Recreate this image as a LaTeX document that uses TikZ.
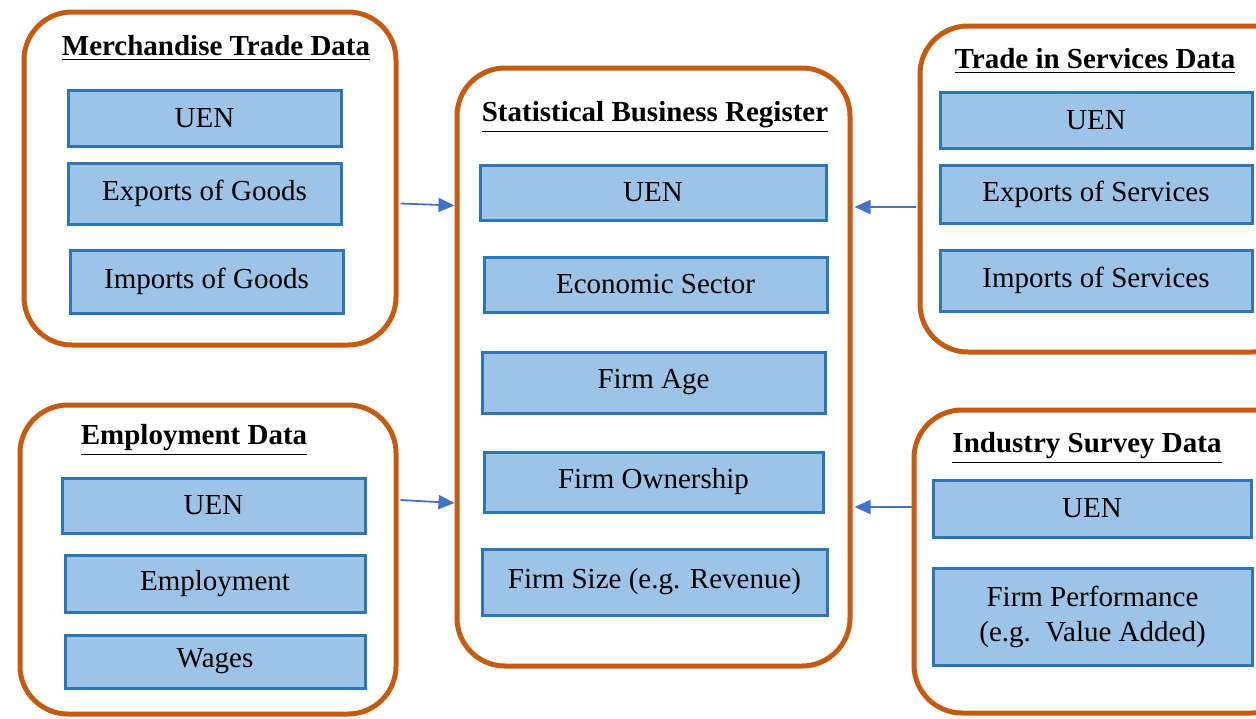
\documentclass[tikz,border=0pt]{standalone}
\usepackage{fontspec}
\setmainfont{Liberation Serif}
\usetikzlibrary{arrows.meta,calc}
\definecolor{frameorange}{HTML}{C55A11}
\definecolor{boxfill}{HTML}{9DC3E6}
\definecolor{boxline}{HTML}{2E75B6}
\definecolor{arrowblue}{HTML}{4472C4}

\begin{document}
\begin{tikzpicture}[x=0.5pt,y=-0.5pt,
  font=\fontsize{14.5}{17.5}\selectfont,
  group/.style n args={2}{draw=frameorange,line width=2.5pt,rounded corners=24pt,
    minimum width=#1*0.5pt,minimum height=#2*0.5pt,inner sep=0pt},
  field/.style n args={2}{draw=boxline,fill=boxfill,line width=1.5pt,
    minimum width=#1*0.5pt,minimum height=#2*0.5pt,inner sep=0pt,align=center},
  heading/.style={font=\fontsize{14.5}{17.5}\selectfont\bfseries},
  flow/.style={arrowblue,line width=0.9pt,-{Triangle[length=8pt,width=7pt]}}]
\useasboundingbox (0,0) rectangle (1256,718);
\clip (0,0) rectangle (1256,718);

% containers
\node[group={372}{333}] (mtd) at (210,178.5) {};
\node[group={376}{309}] (emp) at (208,559.5) {};
\node[group={393}{598}] (sbr) at (653.5,367) {};
\node[group={380}{326}] (tsd) at (1110,189) {};
\node[group={386}{303}] (isd) at (1107,561.5) {};

% merchandise trade
\node[heading] (mtdtitle) at (216,48) {\underline{Merchandise Trade Data}};
\node[field={273}{56}] (mtduen) at (204.5,118) {UEN};
\node[field={273}{61}] (mtdexp) at (204.5,193.5) {Exports of Goods};
\node[field={273}{63}] (mtdimp) at (206.5,281.5) {Imports of Goods};

% employment
\node[heading] (emptitle) at (194,440) {\underline{Employment Data}};
\node[field={303}{55}] (empuen) at (213.5,505.5) {UEN};
\node[field={300}{57}] (empemp) at (215,583.5) {Employment};
\node[field={300}{53}] (empwag) at (215,661.5) {Wages};

% register
\node[heading] (sbrtitle) at (655,117) {\underline{Statistical Business Register}};
\node[field={346}{55}] (sbruen) at (653,192.5) {UEN};
\node[field={343}{55}] (sbrsec) at (655.5,284.5) {Economic Sector};
\node[field={343}{61}] (sbrage) at (653.5,382.5) {Firm Age};
\node[field={339}{60}] (sbrown) at (653.5,482) {Firm Ownership};
\node[field={345}{66}] (sbrsize) at (654.5,582) {Firm Size (e.g. Revenue)};

% trade in services
\node[heading] (tsdtitle) at (1095,61) {\underline{Trade in Services Data}};
\node[field={312}{56}] (tsduen) at (1096,120) {UEN};
\node[field={312}{58}] (tsdexp) at (1096,194) {Exports of Services};
\node[field={312}{61}] (tsdimp) at (1096,280.5) {Imports of Services};

% industry survey
\node[heading] (isdtitle) at (1087,448) {\underline{Industry Survey Data}};
\node[field={318}{57}] (isduen) at (1092,508.5) {UEN};
\node[field={319}{97}] (isdperf) at (1092.5,616.5) {Firm Performance\\(e.g.~~Value Added)};

% links
\draw[flow] ($(mtd.east)+(2,25)$) -- ($(mtd.east -| sbr.west)+(0,27)$);
\draw[flow] ($(emp.east)+(2,-59.5)$) -- ($(emp.east -| sbr.west)+(0,-56.5)$);
\draw[flow] ($(tsd.west)+(-2,18)$) -- ($(tsd.west -| sbr.east)+(2,18)$);
\draw[flow] ($(isd.west)+(0,-54.5)$) -- ($(isd.west -| sbr.east)+(2,-54.5)$);
\end{tikzpicture}
\end{document}
